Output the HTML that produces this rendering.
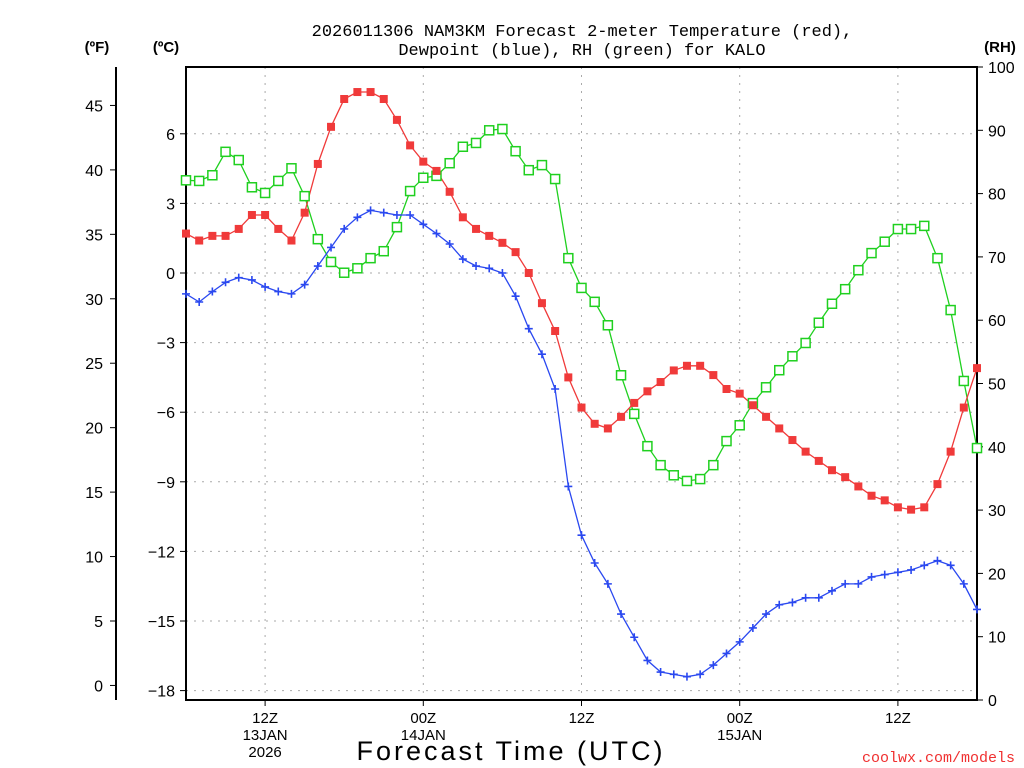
<!DOCTYPE html>
<html><head><meta charset="utf-8"><style>
html,body{margin:0;padding:0;background:#fff;}
svg{display:block;font-family:"Liberation Sans",sans-serif;}
</style></head><body>
<svg id="chart" width="1024" height="768" xmlns="http://www.w3.org/2000/svg">
<rect width="1024" height="768" fill="#fff"/>
<g id="grid"></g>
<g id="axes"></g>
<g id="series"></g>
<text x="582" y="36" text-anchor="middle" font-size="17" font-family="Liberation Mono, monospace">2026011306 NAM3KM Forecast 2-meter Temperature (red),</text>
<text x="582" y="55" text-anchor="middle" font-size="17" font-family="Liberation Mono, monospace">Dewpoint (blue), RH (green) for KALO</text>
<text x="97" y="52" text-anchor="middle" font-size="15" font-weight="bold">(ºF)</text>
<text x="166" y="52" text-anchor="middle" font-size="15" font-weight="bold">(ºC)</text>
<text x="1000" y="52" text-anchor="middle" font-size="15" font-weight="bold">(RH)</text>
<text x="511" y="760" text-anchor="middle" font-size="27" letter-spacing="3">Forecast Time (UTC)</text>
<text x="1015" y="762" text-anchor="end" font-size="15" fill="#f03030" font-family="Liberation Mono, monospace">coolwx.com/models</text>
</svg>
<script>
const temps=[1.7,1.4,1.6,1.6,1.9,2.5,2.5,1.9,1.4,2.6,4.7,6.3,7.5,7.8,7.8,7.5,6.6,5.5,4.8,4.4,3.5,2.4,1.9,1.6,1.3,0.9,0.0,-1.3,-2.5,-4.5,-5.8,-6.5,-6.7,-6.2,-5.6,-5.1,-4.7,-4.2,-4.0,-4.0,-4.4,-5.0,-5.2,-5.7,-6.2,-6.7,-7.2,-7.7,-8.1,-8.5,-8.8,-9.2,-9.6,-9.8,-10.1,-10.2,-10.1,-9.1,-7.7,-5.8,-4.1];
const dewpoints=[-0.9,-1.25,-0.8,-0.4,-0.2,-0.3,-0.6,-0.8,-0.9,-0.5,0.3,1.1,1.9,2.4,2.7,2.6,2.5,2.5,2.1,1.7,1.25,0.6,0.3,0.2,0.0,-1.0,-2.4,-3.5,-5.0,-9.2,-11.3,-12.5,-13.4,-14.7,-15.7,-16.7,-17.2,-17.3,-17.4,-17.3,-16.9,-16.4,-15.9,-15.3,-14.7,-14.3,-14.2,-14.0,-14.0,-13.7,-13.4,-13.4,-13.1,-13.0,-12.9,-12.8,-12.6,-12.4,-12.6,-13.4,-14.5];
const rhValues=[82.1,82.0,82.9,86.6,85.3,81.0,80.1,82.0,84.0,79.6,72.8,69.2,67.5,68.2,69.8,70.9,74.7,80.4,82.5,82.8,84.8,87.4,88.0,90.0,90.2,86.7,83.7,84.5,82.3,69.8,65.1,62.9,59.2,51.3,45.2,40.1,37.1,35.5,34.6,34.9,37.1,40.9,43.4,46.9,49.4,52.1,54.3,56.4,59.6,62.6,64.9,67.9,70.6,72.4,74.4,74.4,74.9,69.8,61.6,50.4,39.8];
const celsiusTicks=[6,3,0,-3,-6,-9,-12,-15,-18];
const fahrenheitTicks=[45,40,35,30,25,20,15,10,5,0];
const rhTicks=[100,90,80,70,60,50,40,30,20,10,0];
const timeTickHours=[6,18,30,42,54];
const timeTickLabels=[["12Z","13JAN","2026"],["00Z","14JAN"],["12Z"],["00Z","15JAN"],["12Z"]];

const L=186,R=977,T=67,B=700,NH=60;
const xs=h=>L+(R-L)*h/NH;
const yC=c=>273-c*23.2;
const yF=f=>yC((f-32)/1.8);
const yRH=r=>B-(B-T)*r/100;
const NS="http://www.w3.org/2000/svg";
function mk(tag,attrs,parent,text){const e=document.createElementNS(NS,tag);for(const k in attrs)e.setAttribute(k,attrs[k]);if(text!==undefined)e.textContent=text;parent.appendChild(e);return e;}
const grid=document.getElementById('grid'),axes=document.getElementById('axes'),ser=document.getElementById('series');

celsiusTicks.forEach(c=>{const y=yC(c);
 if(y>T+5&&y<B-5){const g=mk('line',{x1:L,x2:R,y1:y,y2:y,stroke:'#aaa','stroke-dasharray':'2,6'},grid);
 
 }
 const t=mk('line',{x1:L-6,x2:L,y1:y,y2:y,stroke:'#000'},axes);
 
 
 const lb=mk('text',{x:175,y:y+6,'text-anchor':'end','font-size':16},axes,c<0?'\u2212'+(-c):String(c));
 
 
});
fahrenheitTicks.forEach(f=>{const y=yF(f);
 const t=mk('line',{x1:110,x2:116,y1:y,y2:y,stroke:'#000'},axes);
 
 
 const lb=mk('text',{x:103,y:y+6,'text-anchor':'end','font-size':16},axes,String(f));
 
 
});
rhTicks.forEach(r=>{const y=yRH(r);
 const t=mk('line',{x1:R,x2:R+6,y1:y,y2:y,stroke:'#000'},axes);
 
 
 const lb=mk('text',{x:988,y:y+6,'font-size':16},axes,String(r));
 
 
});
timeTickHours.forEach((h,i)=>{const x=xs(h);
 const g=mk('line',{x1:x,x2:x,y1:T,y2:B,stroke:'#aaa','stroke-dasharray':'2,6'},grid);
 
 
 const t=mk('line',{x1:x,x2:x,y1:B,y2:B+6,stroke:'#000'},axes);
 
 
 timeTickLabels[i].forEach((s,j)=>{const lb=mk('text',{x:x,y:723+j*17,'text-anchor':'middle','font-size':15},axes,s);
 
 });
});
const fr=mk('rect',{x:L,y:T,width:R-L,height:B-T,fill:'none',stroke:'#000','stroke-width':2},axes);


const fl=mk('line',{x1:116,x2:116,y1:T,y2:B,stroke:'#000','stroke-width':2},axes);



function line(vals,yf,color,name){const p=vals.map((v,i)=>xs(i).toFixed(1)+','+yf(v).toFixed(1)).join(' ');
 const e=mk('polyline',{points:p,fill:'none',stroke:color,'stroke-width':1.3},ser);
 
 }
line(rhValues,yRH,'#1fd01f','rh-line');
line(temps,yC,'#f03a3a','temperature-line');
line(dewpoints,yC,'#2a48f0','dewpoint-line');
rhValues.forEach((v,i)=>{const m=mk('rect',{x:xs(i)-4.5,y:yRH(v)-4.5,width:9,height:9,fill:'#fff',stroke:'#1fd01f','stroke-width':1.5},ser);
 
 });
temps.forEach((v,i)=>{const m=mk('rect',{x:xs(i)-4,y:yC(v)-4,width:8,height:8,fill:'#f03a3a'},ser);
 
 });
dewpoints.forEach((v,i)=>{const x=xs(i),y=yC(v);const m=mk('path',{d:`M${x-4},${y}H${x+4}M${x},${y-4}V${y+4}`,stroke:'#2a48f0','stroke-width':1.6},ser);
 
 });
</script>
</body></html>
